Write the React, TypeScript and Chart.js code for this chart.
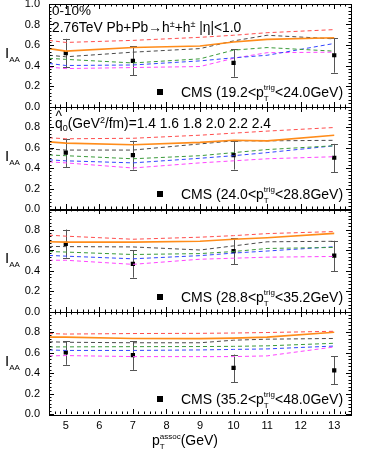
import React, { useEffect, useRef } from 'react';
import { Chart, registerables } from 'chart.js';
Chart.register(...registerables);

const FONT = '"Liberation Sans", Arial, sans-serif';

// theory curves x positions
const xCurve = [4.5, 5, 7, 9, 10, 11, 13];
// CMS data x positions
const xCms = [5, 7, 10, 13];

// Panel 1 (19.2-24.0 GeV)
const p1Red = [0.645, 0.625, 0.645, 0.675, 0.695, 0.72, 0.75];
const p1Orange = [0.565, 0.54, 0.575, 0.59, 0.63, 0.655, 0.67];
const p1Black = [0.5, 0.485, 0.53, 0.565, 0.64, 0.695, 0.66];
const p1Green = [0.47, 0.46, 0.425, 0.465, 0.55, 0.575, 0.54];
const p1Blue = [0.42, 0.4, 0.405, 0.445, 0.475, 0.5, 0.615];
const p1Magenta = [0.385, 0.37, 0.38, 0.39, 0.47, 0.525, 0.53];
const p1Cms = [0.52, 0.445, 0.425, 0.5];
const p1Lo = [0.385, 0.305, 0.29, 0.33];
const p1Hi = [0.66, 0.59, 0.56, 0.665];

// Panel 2 (24.0-28.8 GeV)
const p2Red = [0.695, 0.685, 0.69, 0.72, 0.74, 0.76, 0.795];
const p2Orange = [0.655, 0.643, 0.627, 0.65, 0.67, 0.665, 0.72];
const p2Black = [0.585, 0.575, 0.575, 0.635, 0.665, 0.665, 0.67];
const p2Green = [0.527, 0.52, 0.49, 0.52, 0.55, 0.58, 0.617];
const p2Blue = [0.48, 0.47, 0.45, 0.495, 0.52, 0.55, 0.617];
const p2Magenta = [0.46, 0.45, 0.4, 0.45, 0.47, 0.49, 0.51];
const p2Cms = [0.55, 0.525, 0.525, 0.5];
const p2Lo = [0.41, 0.385, 0.385, 0.36];
const p2Hi = [0.68, 0.665, 0.665, 0.635];

// Panel 3 (28.8-35.2 GeV)
const p3Red = [0.745, 0.735, 0.705, 0.725, 0.74, 0.76, 0.78];
const p3Orange = [0.68, 0.677, 0.677, 0.685, 0.705, 0.72, 0.762];
const p3Black = [0.635, 0.633, 0.63, 0.6, 0.64, 0.68, 0.685];
const p3Green = [0.585, 0.58, 0.556, 0.565, 0.585, 0.615, 0.625];
const p3Blue = [0.547, 0.54, 0.514, 0.545, 0.57, 0.59, 0.632];
const p3Magenta = [0.5, 0.5, 0.46, 0.51, 0.52, 0.53, 0.537];
const p3Cms = [0.66, 0.465, 0.59, 0.545];
const p3Lo = [0.525, 0.33, 0.46, 0.395];
const p3Hi = [0.8, 0.6, 0.715, 0.69];

// Panel 4 (35.2-48.0 GeV)
const p4Red = [0.785, 0.78, 0.785, 0.787, 0.79, 0.795, 0.807];
const p4Orange = [0.75, 0.75, 0.737, 0.735, 0.74, 0.75, 0.798];
const p4Black = [0.705, 0.7, 0.695, 0.695, 0.72, 0.73, 0.737];
const p4Green = [0.654, 0.655, 0.657, 0.658, 0.66, 0.665, 0.69];
const p4Blue = [0.625, 0.62, 0.62, 0.625, 0.63, 0.635, 0.663];
const p4Magenta = [0.567, 0.57, 0.56, 0.56, 0.56, 0.567, 0.654];
const p4Cms = [0.6, 0.575, 0.45, 0.425];
const p4Lo = [0.48, 0.43, 0.31, 0.29];
const p4Hi = [0.71, 0.71, 0.58, 0.565];

const trigLow = ['19.2', '24.0', '28.8', '35.2'];
const trigHigh = ['24.0', '28.8', '35.2', '48.0'];
const qhatValues = ['1.4', '1.6', '1.8', '2.0', '2.2', '2.4'];
const xTickValues = [5, 6, 7, 8, 9, 10, 11, 12, 13];
const yTickValues = [0, 0.2, 0.4, 0.6, 0.8, 1.0];

const curveColors = ['#ff4d4d', '#ff8c1a', '#4a4a4a', '#3a9a3a', '#3344ff', '#ff44ff'];
const axisIds = ['yA', 'yB', 'yC', 'yD'];

const panels = [
  { curves: [p1Red, p1Orange, p1Black, p1Green, p1Blue, p1Magenta], cms: p1Cms, lo: p1Lo, hi: p1Hi },
  { curves: [p2Red, p2Orange, p2Black, p2Green, p2Blue, p2Magenta], cms: p2Cms, lo: p2Lo, hi: p2Hi },
  { curves: [p3Red, p3Orange, p3Black, p3Green, p3Blue, p3Magenta], cms: p3Cms, lo: p3Lo, hi: p3Hi },
  { curves: [p4Red, p4Orange, p4Black, p4Green, p4Blue, p4Magenta], cms: p4Cms, lo: p4Lo, hi: p4Hi },
];

type Seg = { t: string; size: number; dy?: number; stack?: boolean };

function richWidth(ctx: CanvasRenderingContext2D, segs: Seg[]) {
  let w = 0;
  for (let i = 0; i < segs.length; i++) {
    const s = segs[i];
    ctx.font = `${s.size}px ${FONT}`;
    const w1 = ctx.measureText(s.t).width;
    if (s.stack && segs[i + 1]) {
      const n = segs[i + 1];
      ctx.font = `${n.size}px ${FONT}`;
      const w2 = ctx.measureText(n.t).width;
      w += Math.max(w1, w2);
      i++;
    } else w += w1;
  }
  return w;
}

function drawRich(ctx: CanvasRenderingContext2D, x: number, y: number, segs: Seg[]) {
  let cx = x;
  ctx.textAlign = 'left';
  ctx.textBaseline = 'alphabetic';
  for (let i = 0; i < segs.length; i++) {
    const s = segs[i];
    ctx.font = `${s.size}px ${FONT}`;
    ctx.fillText(s.t, cx, y + (s.dy || 0));
    const w1 = ctx.measureText(s.t).width;
    if (s.stack && segs[i + 1]) {
      const n = segs[i + 1];
      ctx.font = `${n.size}px ${FONT}`;
      ctx.fillText(n.t, cx, y + (n.dy || 0));
      const w2 = ctx.measureText(n.t).width;
      cx += Math.max(w1, w2);
      i++;
    } else cx += w1;
  }
  return cx;
}

const panelPlugin = {
  id: 'panelDecor',
  beforeDatasetsDraw(chart: any) {
    const ctx: CanvasRenderingContext2D = chart.ctx;
    const xs = chart.scales.x;
    ctx.save();
    ctx.strokeStyle = '#555';
    ctx.lineWidth = 1;
    panels.forEach((p, pi) => {
      const ys = chart.scales[axisIds[pi]];
      xCms.forEach((xv, i) => {
        const px = Math.round(xs.getPixelForValue(xv)) + 0.5;
        const yl = ys.getPixelForValue(p.lo[i]);
        const yh = ys.getPixelForValue(p.hi[i]);
        ctx.beginPath();
        ctx.moveTo(px, yl);
        ctx.lineTo(px, yh);
        ctx.moveTo(px - 3.5, Math.round(yl) + 0.5);
        ctx.lineTo(px + 3.5, Math.round(yl) + 0.5);
        ctx.moveTo(px - 3.5, Math.round(yh) + 0.5);
        ctx.lineTo(px + 3.5, Math.round(yh) + 0.5);
        ctx.stroke();
      });
    });
    ctx.restore();
  },
  afterDraw(chart: any) {
    const ctx: CanvasRenderingContext2D = chart.ctx;
    const xs = chart.scales.x;
    const area = chart.chartArea;
    const L = area.left;
    const R = area.right;
    ctx.save();
    ctx.fillStyle = '#000';
    ctx.strokeStyle = '#000';
    ctx.lineWidth = 1;
    panels.forEach((p, pi) => {
      const ys = chart.scales[axisIds[pi]];
      const T = ys.top;
      const B = ys.bottom;
      // frame
      ctx.strokeRect(Math.round(L) + 0.5, Math.round(T) + 0.5, Math.round(R - L), Math.round(B - T));
      // y ticks
      ctx.beginPath();
      for (let k = 0; k <= 30; k++) {
        const v = k / 30;
        const py = Math.round(ys.getPixelForValue(v)) + 0.5;
        const len = k % 6 === 0 ? 5 : 2.5;
        ctx.moveTo(L, py);
        ctx.lineTo(L + len, py);
        ctx.moveTo(R, py);
        ctx.lineTo(R - len, py);
      }
      // x ticks (top & bottom of each panel)
      for (let k = 0; k <= 54; k++) {
        const v = 4.5 + k / 6;
        const px = Math.round(xs.getPixelForValue(v)) + 0.5;
        const major = Math.abs(v - Math.round(v)) < 1e-6;
        const len = major ? 5 : 2.5;
        ctx.moveTo(px, Math.round(T));
        ctx.lineTo(px, Math.round(T) + len);
        ctx.moveTo(px, Math.round(B));
        ctx.lineTo(px, Math.round(B) - len);
      }
      ctx.stroke();

      // y title I_AA
      const cy = (T + B) / 2;
      drawRich(ctx, 5, cy + 3, [
        { t: 'I', size: 15 },
        { t: 'AA', size: 8, dy: 4 },
      ]);

      // CMS legend
      const ly = B - 15;
      const mx = xs.getPixelForValue(7.8);
      ctx.fillRect(Math.round(mx) - 3, Math.round(ly) - 3, 6, 6);
      drawRich(ctx, 181, ly + 5, [
        { t: `CMS (${trigLow[pi]}<p`, size: 14 },
        { t: 'T', size: 8, dy: 4, stack: true },
        { t: 'trig', size: 8, dy: -7 },
        { t: `<${trigHigh[pi]}GeV)`, size: 14 },
      ]);
    });

    // texts in panel 1
    const y0 = chart.scales[axisIds[0]];
    drawRich(ctx, 52, y0.top + 11, [{ t: '0-10%', size: 13.5 }]);
    drawRich(ctx, 52, y0.top + 27.5, [
      { t: '2.76TeV Pb+Pb\u2192h', size: 13.8 },
      { t: '\u00b1', size: 9, dy: -5 },
      { t: '+h', size: 13.8 },
      { t: '\u00b1', size: 9, dy: -5 },
      { t: ' |\u03b7|<1.0', size: 13.8 },
    ]);
    // qhat text in panel 2
    const y1 = chart.scales[axisIds[1]];
    const qy = y1.top + 21;
    ctx.font = `13.8px ${FONT}`;
    const qw = ctx.measureText('q').width;
    ctx.textAlign = 'center';
    ctx.fillText('^', 55 + qw / 2, qy - 7);
    drawRich(ctx, 55, qy, [
      { t: 'q', size: 13.8 },
      { t: '0', size: 9, dy: 3 },
      { t: '(GeV', size: 13.8 },
      { t: '2', size: 9, dy: -5 },
      { t: '/fm)=' + qhatValues.join(' '), size: 13.8 },
    ]);

    // x title
    const yD = chart.scales[axisIds[3]];
    const segs: Seg[] = [
      { t: 'p', size: 14 },
      { t: 'T', size: 8, dy: 4, stack: true },
      { t: 'assoc', size: 8, dy: -6 },
      { t: '(GeV)', size: 14 },
    ];
    const tw = richWidth(ctx, segs);
    drawRich(ctx, (L + R) / 2 - tw / 2 - 15, yD.bottom + 31, segs);
    ctx.restore();
  },
};

export default function App() {
  const ref = useRef<HTMLCanvasElement>(null);
  useEffect(() => {
    if (!ref.current) return;
    const datasets: any[] = [];
    panels.forEach((p, pi) => {
      p.curves.forEach((c, ci) => {
        datasets.push({
          type: 'line',
          data: xCurve.map((x, i) => ({ x, y: c[i] })),
          yAxisID: axisIds[pi],
          borderColor: curveColors[ci],
          borderWidth: ci === 1 ? 1.6 : 1,
          borderDash: ci === 1 ? [] : [4, 3],
          pointRadius: 0,
          fill: false,
          tension: 0,
        });
      });
      datasets.push({
        type: 'line',
        data: xCms.map((x, i) => ({ x, y: p.cms[i] })),
        yAxisID: axisIds[pi],
        showLine: false,
        pointStyle: 'rect',
        pointRadius: 3,
        backgroundColor: '#000',
        borderColor: '#000',
        borderWidth: 0,
      });
    });
    const yScale = (pi: number) => ({
      type: 'linear',
      min: 0,
      max: 1,
      position: 'left',
      stack: 'panels',
      stackWeight: 1,
      weight: 10 - pi,
      grid: { display: false, drawTicks: false },
      border: { display: false },
      afterBuildTicks: (s: any) => {
        s.ticks = yTickValues.map((v) => ({ value: v }));
      },
      ticks: {
        autoSkip: false,
        padding: 9,
        color: '#000',
        font: { size: 11, family: FONT },
        callback: (v: any) => (pi > 0 && Math.abs(v - 1) < 1e-6 ? '' : Number(v).toFixed(1)),
      },
      afterFit: (s: any) => {
        s.width = 49;
        s.paddingTop = 0;
        s.paddingBottom = 0;
      },
    });
    const chart = new Chart(ref.current, {
      type: 'line',
      data: { datasets },
      options: {
        responsive: false,
        animation: false,
        layout: { padding: { top: 4, right: 23, left: 0, bottom: 0 } },
        plugins: { legend: { display: false }, tooltip: { enabled: false } },
        scales: {
          x: {
            type: 'linear',
            min: 4.5,
            max: 13.5,
            position: 'bottom',
            grid: { display: false, drawTicks: false },
            border: { display: false },
            afterBuildTicks: (s: any) => {
              s.ticks = xTickValues.map((v) => ({ value: v }));
            },
            ticks: {
              autoSkip: false,
              maxRotation: 0,
              padding: 5,
              color: '#000',
              font: { size: 11, family: FONT },
              callback: (v: any) => String(v),
            },
            afterFit: (s: any) => {
              s.height = 35;
              s.paddingLeft = 0;
              s.paddingRight = 0;
            },
          },
          yA: yScale(0),
          yB: yScale(1),
          yC: yScale(2),
          yD: yScale(3),
        } as any,
      },
      plugins: [panelPlugin],
    } as any);
    return () => chart.destroy();
  }, []);
  return (
    <div style={{ position: 'absolute', left: 0, top: 0, width: 374, height: 449 }}>
      <canvas ref={ref} width={374} height={449} style={{ display: 'block', width: 374, height: 449 }} />
    </div>
  );
}
